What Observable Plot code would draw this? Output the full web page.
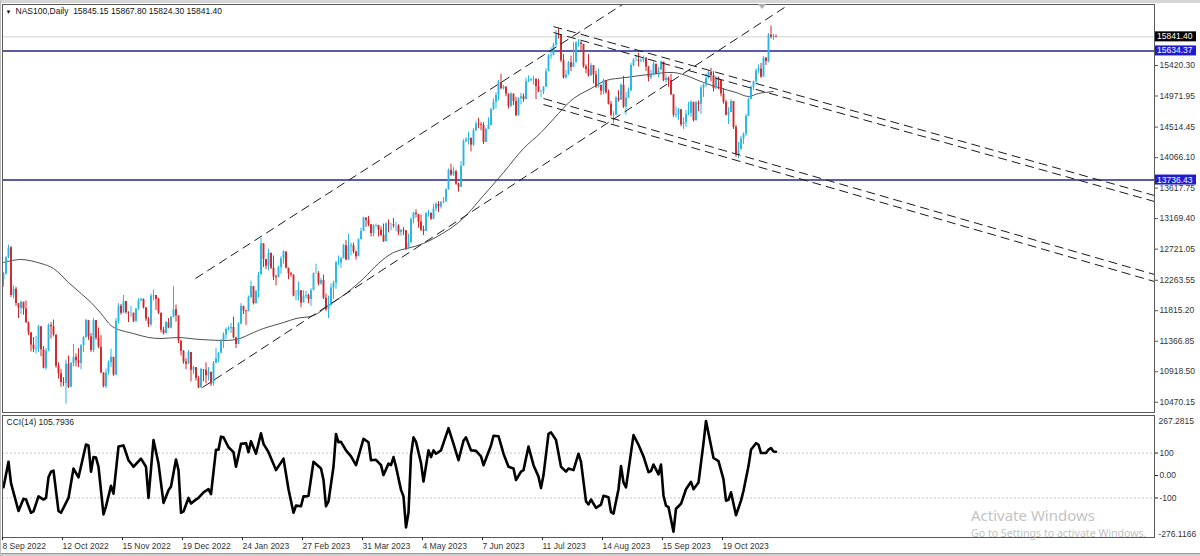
<!DOCTYPE html>
<html><head><meta charset="utf-8">
<script src="https://cdn.jsdelivr.net/npm/d3@7"></script>
<script src="https://cdn.jsdelivr.net/npm/@observablehq/plot@0.6"></script>
<style>
html,body{margin:0;padding:0;background:#fff;}
#wrap{position:relative;width:1200px;height:556px;overflow:hidden;background:#fff;font-family:"Liberation Sans",Arial,sans-serif;}
#main{position:absolute;left:0;top:0;}
#cci{position:absolute;left:0;top:414px;}
#topbar{position:absolute;left:0;top:0;width:1200px;height:3px;background:#d6d6d6;}
#botbar{position:absolute;left:0;top:553px;width:1200px;height:3px;background:#cfcfcf;border-top:1px solid #9a9a9a;}
#leftbar{position:absolute;left:0;top:0;width:1px;height:556px;background:#bdbdbd;}
.wm1{position:absolute;left:971px;top:505px;font:15px "Noto Sans",sans-serif;color:#c3c3c3;white-space:nowrap;}
.wm2{position:absolute;left:971px;top:526px;font:10.6px "Noto Sans",sans-serif;color:#c3c3c3;white-space:nowrap;}
</style></head><body>
<div id="wrap">
<div id="main"></div><div id="cci"></div>
<div id="topbar"></div><div id="botbar"></div><div id="leftbar"></div>
<div class="wm1">Activate Windows</div>
<div class="wm2">Go to Settings to activate Windows.</div>
</div>
<script>
// ---- daily bars (index 0 = 8 Sep 2022) ----
const opens = [
12270,12350,12590,12740,12040,12130,11920,11850,11940,11840,
11640,11490,11310,11250,11260,11580,11240,10970,11220,11600,
11580,11460,11000,10890,10760,10750,11030,10690,11040,11130,
11080,11040,11300,11420,11670,11430,11230,11670,11410,11280,
10900,10700,10900,11050,11130,10870,11660,11880,11780,11950,
11790,11780,11780,11660,11840,11960,11980,11860,11690,11610,
12030,12040,11980,11780,11530,11480,11640,11560,11720,11830,
11740,11370,11220,11060,11030,11200,10940,10980,10820,10680,
10950,10940,10860,10910,10740,11040,11110,11190,11380,11460,
11540,11550,11570,11420,11320,11620,11880,11810,11800,12010,
12170,11920,12100,12340,12800,12570,12470,12660,12440,12310,
12300,12450,12580,12680,12440,12360,12340,12030,12030,12110,
11930,12030,12040,11980,12110,12360,12360,12210,12260,12000,
11830,11890,12150,12220,12520,12520,12580,12770,12560,12760,
12770,12680,12610,12860,12980,13180,13140,13080,12950,13060,
13070,13000,12920,12830,13090,13080,13080,13060,13060,12960,
13000,12990,12720,12810,13160,13250,13230,13120,13000,12980,
13240,13250,13160,13310,13380,13340,13410,13420,13590,13880,
13810,13860,13680,13630,13940,14300,14330,14350,14250,14460,
14560,14550,14540,14290,14480,14540,14770,14880,14980,15170,
15080,15100,15000,14820,15000,14890,14680,14930,14960,14920,
15180,15200,15210,15220,15110,15030,15030,15100,15330,15560,
15570,15720,15870,15860,15490,15240,15280,15460,15390,15460,
15750,15750,15730,15400,15360,15270,15420,15280,15100,15130,
15040,15200,15020,14850,14690,14690,14940,14910,15130,14810,
14940,15050,15420,15500,15500,15480,15490,15530,15400,15240,
15270,15440,15300,15350,15470,15200,15230,15200,14990,14690,
14700,14770,14550,14580,14700,14720,14880,14610,14870,14850,
15090,15130,15230,15320,15270,15080,15230,15200,15000,14880,
14690,14730,14890,14510,14110,14180,14340,14410,14670,14920,
15100,15180,15340,15370,15250,15530,15480,15870,15840,15845.15];
const highs = [
12380,12610,12780,12760,12180,12160,11900,11960,11930,11960,
11650,11460,11420,11440,11600,11520,11290,11260,11620,11640,
11680,11430,11050,10950,10830,11090,11150,11060,11320,11180,
11260,11320,11440,11690,11560,11480,11700,11600,11560,11450,
10890,10960,11080,11250,11110,11700,11920,11910,12040,11930,
11800,11880,11780,11850,11990,12000,11990,11860,11720,12060,
12120,12010,12000,11780,11570,11660,11700,11730,12170,11900,
11720,11370,11230,11110,11230,11200,11000,10980,10850,10970,
10950,11050,10980,10890,11070,11260,11200,11390,11490,11560,
11580,11630,11720,11410,11640,11920,11880,11820,12030,12250,
12150,12110,12380,12880,12720,12570,12720,12630,12620,12340,
12470,12610,12700,12620,12430,12380,12250,12110,12240,11990,
12110,12100,12060,12140,12370,12500,12390,12290,12340,12060,
12030,12210,12250,12540,12620,12600,12790,12850,12940,12810,
12810,12690,12870,13030,13190,13180,13200,13070,13080,13090,
13070,13050,13090,13110,13150,13100,13170,13110,13080,13010,
13040,12960,12940,13180,13260,13300,13210,13220,13060,13260,
13290,13230,13380,13400,13420,13420,13480,13610,13900,13970,
13920,13880,13690,14010,14330,14360,14440,14330,14490,14600,
14640,14580,14580,14500,14650,14790,14930,15020,15200,15290,
15130,15110,15000,15020,14960,14950,14950,15010,15000,15230,
15270,15230,15260,15160,15220,15060,15110,15370,15580,15680,
15750,15930,15960,15810,15580,15350,15480,15560,15760,15770,
15800,15770,15680,15430,15580,15450,15380,15340,15370,15120,
15220,15190,15060,14890,14740,14960,15050,15150,15260,15020,
15090,15450,15520,15570,15600,15520,15560,15530,15370,15350,
15470,15410,15390,15490,15420,15280,15250,15290,14960,14810,
14790,14700,14650,14760,14880,14900,14850,14890,14900,15120,
15150,15300,15340,15380,15330,15260,15250,15200,15080,14910,
14800,14920,14830,14540,14290,14380,14430,14700,14940,15120,
15190,15370,15430,15450,15550,15530,15890,16000,15880,15867.80];
const lows = [
12160,12340,12580,12010,11990,11880,11700,11760,11750,11630,
11450,11210,11200,11180,11200,11140,10960,10940,11290,11400,
11430,10970,10810,10690,10700,10440,10670,10720,10990,10990,
10980,10950,11200,11410,11380,11200,11200,11380,11260,10890,
10680,10670,10870,10980,10850,10860,11620,11750,11800,11760,
11640,11720,11640,11640,11820,11950,11840,11660,11570,11580,
11960,11820,11760,11490,11460,11480,11550,11550,11710,11650,
11330,11150,11030,10950,11040,10770,10880,10780,10670,10700,
10770,10740,10780,10700,10710,11080,11050,11200,11260,11390,
11520,11480,11400,11260,11330,11610,11760,11600,11870,11990,
11900,11910,12000,12340,12450,12420,12400,12420,12260,12180,
12300,12350,12500,12430,12270,12310,12020,11960,11960,11860,
11930,11990,11920,11880,12110,12350,12180,12190,11980,11800,
11700,11890,11980,12130,12480,12440,12580,12550,12560,12620,
12650,12560,12610,12860,12980,13040,13050,12900,12900,13040,
12900,12910,12820,12830,12960,12990,13030,12980,12920,12910,
12920,12700,12720,12810,13090,13180,13030,12980,12920,12980,
13190,13140,13160,13270,13260,13310,13390,13400,13590,13790,
13790,13660,13560,13630,13940,14290,14250,14150,14230,14450,
14490,14460,14260,14290,14480,14540,14760,14780,14900,15060,
15060,14960,14780,14800,14830,14670,14680,14840,14880,14920,
15170,15180,15130,14920,15020,14950,14990,15100,15330,15510,
15560,15700,15810,15460,15220,15220,15280,15330,15390,15460,
15690,15640,15380,15300,15250,15260,15150,15080,15090,14980,
14990,15000,14840,14670,14560,14690,14880,14910,14790,14690,
14940,15040,15400,15480,15400,15460,15460,15330,15180,15210,
15270,15280,15240,15350,15180,15160,15100,14980,14660,14650,
14610,14520,14480,14510,14680,14660,14590,14600,14740,14700,
14950,15100,15220,15180,15030,15070,15060,14960,14850,14680,
14550,14730,14480,14070,14050,14190,14260,14380,14690,14960,
15050,15160,15300,15230,15250,15420,15460,15810,15790,15824.30];
const closes = [
12350,12590,12740,12040,12130,11920,11850,11940,11840,11640,
11490,11310,11250,11260,11580,11240,10970,11220,11600,11580,
11460,11000,10890,10760,10750,11030,10690,11040,11130,11080,
11040,11300,11420,11670,11430,11230,11670,11410,11280,10900,
10700,10900,11050,11130,10870,11660,11880,11780,11950,11790,
11780,11780,11660,11840,11960,11980,11860,11690,11610,12030,
12040,11980,11780,11530,11480,11640,11560,11720,11830,11740,
11370,11220,11060,11030,11200,10940,10980,10820,10680,10950,
10940,10860,10910,10740,11040,11110,11190,11380,11460,11540,
11550,11570,11420,11320,11620,11880,11810,11800,12010,12170,
11920,12100,12340,12800,12570,12470,12660,12440,12310,12300,
12450,12580,12680,12440,12360,12340,12030,12030,12110,11930,
12030,12040,11980,12110,12360,12360,12210,12260,12000,11830,
11890,12150,12220,12520,12520,12580,12770,12560,12760,12770,
12680,12610,12860,12980,13180,13140,13080,12950,13060,13070,
13000,12920,12830,13090,13080,13080,13060,13060,12960,13000,
12990,12720,12810,13160,13250,13230,13120,13000,12980,13240,
13250,13160,13310,13380,13340,13410,13420,13590,13880,13810,
13860,13680,13630,13940,14300,14330,14350,14250,14460,14560,
14550,14540,14290,14480,14540,14770,14880,14980,15170,15080,
15100,15000,14820,15000,14890,14680,14930,14960,14920,15180,
15200,15210,15220,15110,15030,15030,15100,15330,15560,15570,
15720,15870,15860,15490,15240,15280,15460,15390,15460,15750,
15750,15730,15400,15360,15270,15420,15280,15100,15130,15040,
15200,15020,14850,14690,14690,14940,14910,15130,14810,14940,
15050,15420,15500,15500,15480,15490,15530,15400,15240,15270,
15440,15300,15350,15470,15200,15230,15200,14990,14690,14700,
14770,14550,14580,14700,14720,14880,14610,14870,14850,15090,
15130,15230,15320,15270,15080,15230,15200,15000,14880,14690,
14730,14890,14510,14110,14180,14340,14410,14670,14920,15100,
15180,15340,15370,15250,15530,15480,15870,15840,15845,15841.40];

// ---- time axis ----
const dateTickIdx = [0,24,48,72,96,120,144,168,192,216,240,264,288];
const dateLabels = ["8 Sep 2022","12 Oct 2022","15 Nov 2022","19 Dec 2022","24 Jan 2023","27 Feb 2023","31 Mar 2023","4 May 2023","7 Jun 2023","11 Jul 2023","14 Aug 2023","15 Sep 2023","19 Oct 2023"];

// ---- price axis ----
const priceTicks = [15420.30,14971.95,14514.45,14066.10,13617.75,13169.40,12721.05,12263.55,11815.20,11366.85,10918.50,10470.15];
const levelLines = [15634.37, 13736.43];

// ---- moving average ----
const maIdx = [0,7,15,20,26,31,35,39,43,46,52,58,63,70,79,93,100,104,112,117,124,130,137,144,150,156,168,182,192,200,208,215,222,228,235,241,249,258,268,273,280,286,293,298,302,308];
const maVal = [12524,12569,12510,12436,12230,12069,11936,11775,11598,11539,11480,11422,11407,11422,11392,11392,11495,11554,11642,11701,11745,11892,12069,12289,12510,12671,12804,13112,13509,13847,14200,14435,14715,14935,15082,15200,15244,15288,15317,15273,15170,15097,15023,14965,15009,15038];

// ---- trend lines (bar index, price) ----
const trendI1 = [76.8, 79.6, 220, 220, 216, 216];
const trendP1 = [12289, 10687, 15993, 15905, 14935, 14847];
const trendI2 = [247.6, 312.4, 460.4, 460.4, 460.4, 460.4];
const trendP2 = [16317, 16273, 13509, 13421, 12348, 12245];

// ---- CCI(14) ----
const cciIdx = [0,2,3,6,8,9,11,12,14,16,17,18,19,20,22,23,26,28,30,33,34,35,36,37,38,40,41,43,44,46,48,50,52,55,57,58,60,62,64,66,67,69,70,71,72,74,75,77,78,80,82,83,85,86,87,88,90,92,93,95,97,98,99,101,103,104,106,109,112,114,116,117,119,120,121,122,124,127,128,129,130,132,133,134,135,137,139,141,144,146,147,149,151,152,154,155,156,157,159,160,161,162,163,164,165,167,168,170,171,172,173,175,178,180,182,184,185,187,189,191,192,195,196,198,200,202,204,205,207,208,210,212,214,215,216,218,219,221,223,225,226,228,230,231,233,234,235,237,239,240,242,243,244,246,247,248,249,252,254,256,258,259,260,262,263,264,265,266,268,269,271,273,275,276,278,280,281,282,284,286,288,289,290,291,293,295,296,298,299,301,302,303,305,306,307,308,309];
const cciVal = [-52,61,-34,-158,-104,-107,-166,-160,-93,-107,-100,-8,17,22,-158,-166,-100,31,-8,138,134,17,82,80,39,-173,-137,-46,-81,129,134,68,39,75,39,-100,158,53,-122,-66,-49,71,24,-166,-160,-100,-125,-107,-100,-75,-61,-83,115,115,173,170,126,104,39,141,144,104,153,97,188,141,104,24,75,-61,-166,-134,-137,-93,-93,-90,61,31,-20,-137,-115,39,185,148,150,112,85,46,163,148,68,70,46,2,53,46,82,39,-64,-93,-231,-166,90,170,150,56,-27,112,82,112,97,112,211,141,68,155,170,112,110,85,46,134,177,175,97,39,31,-20,17,24,129,46,-5,-56,2,185,192,158,39,17,31,24,97,61,-115,-129,-107,-144,-130,-90,-97,-163,-170,-61,42,-31,-53,180,137,85,15,20,49,5,49,-90,-134,-141,-250,-148,-126,-61,-28,-61,-31,144,243,188,78,64,-17,-112,-108,-75,-177,-112,-68,42,115,144,137,100,100,115,122,107,105.7936];
const cciTicks = [100, 0, -100];
const cciTickLabels = ["100", "0.00", "-100"];
const cciTop = 267.2815, cciBottom = -276.1166;

// ---------------------------------------------------------------
const bars = closes.map((c, i) => ({i, o: opens[i], h: highs[i], l: lows[i], c}));
const ma = maIdx.map((i, k) => ({i, v: maVal[k]}));
const trends = trendI1.map((x1, k) => ({x1, y1: trendP1[k], x2: trendI2[k], y2: trendP2[k]}));
const cciPts = cciIdx.map((i, k) => ({i, v: cciVal[k]}));
const last = bars[bars.length - 1];

const W = 1200;
const xDomain = [-0.4, 460.4];
const UP = "#27b7e5", DN = "#d3262a";
const FONT = "'Liberation Sans', Arial, sans-serif";
const col = d => d.c >= d.o ? UP : DN;

const title = `NAS100,Daily  ${last.o.toFixed(2)} ${last.h.toFixed(2)} ${last.l.toFixed(2)} ${last.c.toFixed(2)}`;

const main = Plot.plot({
  width: W, height: 414,
  marginLeft: 2, marginRight: 46, marginTop: 4, marginBottom: 2,
  x: {type: "linear", domain: xDomain, axis: null, label: null},
  y: {domain: [10319.4, 16317], axis: null, label: null},
  color: {type: "identity"},
  style: {fontFamily: FONT, fontSize: "8.5px", color: "#222", background: "transparent", overflow: "visible"},
  marks: [
    Plot.ruleY([last.c], {stroke: "#d2d2d2", strokeWidth: 1}),
    Plot.ruleY(levelLines, {stroke: "#25258f", strokeWidth: 1.6}),
    Plot.line(ma, {x: "i", y: "v", stroke: "#3a3a3a", strokeWidth: 0.9, curve: "catmull-rom"}),
    Plot.ruleX(bars, {x: "i", y1: d => Math.min(d.l, d.o, d.c), y2: d => Math.max(d.h, d.o, d.c), stroke: col, strokeWidth: 1}),
    Plot.ruleX(bars, {x: "i", y1: "o", y2: "c", stroke: col, strokeWidth: 1.9}),
    Plot.link(trends, {x1: "x1", y1: "y1", x2: "x2", y2: "y2", stroke: "#1a1a1a", strokeWidth: 1, strokeDasharray: "9,5"}),
    Plot.frame({stroke: "#5a5a5a"}),
    Plot.axisY({anchor: "right", label: null, ticks: priceTicks, tickFormat: d => d.toFixed(2), tickSize: 3, tickPadding: 2, fontSize: 8.5, stroke: "#555", fill: "#333"}),
    Plot.text(["▼"], {frameAnchor: "top-left", dx: 3, dy: 5, fontSize: 6, fill: "#111", textAnchor: "start", lineAnchor: "top"}),
    Plot.text([title], {frameAnchor: "top-left", dx: 13, dy: 3.5, fontSize: 8.5, fill: "#111", textAnchor: "start", lineAnchor: "top"})
  ]
});

const cciChart = Plot.plot({
  width: W, height: 142,
  marginLeft: 2, marginRight: 46, marginTop: 1, marginBottom: 19,
  x: {type: "linear", domain: xDomain, axis: null, label: null},
  y: {domain: [cciBottom, cciTop], axis: null, label: null},
  style: {fontFamily: FONT, fontSize: "8.5px", color: "#222", background: "transparent", overflow: "visible"},
  marks: [
    Plot.ruleY([100, -100], {stroke: "#c4c4c4", strokeDasharray: "2,2"}),
    Plot.line(cciPts, {x: "i", y: "v", stroke: "#000", strokeWidth: 2.6, strokeLinejoin: "round", strokeLinecap: "round"}),
    Plot.frame({stroke: "#5a5a5a"}),
    Plot.axisY({anchor: "right", label: null, ticks: cciTicks, tickFormat: d => cciTickLabels[cciTicks.indexOf(d)], tickSize: 3, tickPadding: 2, fontSize: 8.5, fill: "#333"}),
    Plot.text([cciTop.toFixed(4)], {frameAnchor: "top-right", dx: 4, dy: 6, fontSize: 8.5, fill: "#333", textAnchor: "start", lineAnchor: "middle"}),
    Plot.text([cciBottom.toFixed(4)], {frameAnchor: "bottom-right", dx: 4, dy: -3, fontSize: 8.5, fill: "#333", textAnchor: "start", lineAnchor: "middle"}),
    Plot.axisX({anchor: "bottom", label: null, ticks: dateTickIdx, tickFormat: d => dateLabels[dateTickIdx.indexOf(d)], tickSize: 3, tickPadding: 2, textAnchor: "start", dx: -1, fontSize: 8.5, fill: "#333"}),
    Plot.text([`CCI(14) ${cciVal[cciVal.length - 1].toFixed(4)}`], {frameAnchor: "top-left", dx: 4, dy: 3, fontSize: 8.5, fill: "#222", textAnchor: "start", lineAnchor: "top"})
  ]
});

document.getElementById("main").appendChild(main);
document.getElementById("cci").appendChild(cciChart);

// price boxes on the right axis, placed with the chart's own y scale
const yScale = main.scale("y");
function priceBox(v, bg) {
  const y = yScale.apply(v);
  const g = d3.select(main).append("g");
  g.append("rect").attr("x", 1155).attr("y", y - 5).attr("width", 41).attr("height", 10).attr("fill", bg);
  g.append("text").attr("x", 1157).attr("y", y).attr("dy", "0.35em").attr("text-anchor", "start")
    .attr("fill", "#fff").attr("font-size", 8.5).attr("font-family", FONT).text(v.toFixed(2));
}
priceBox(last.c, "#000");
levelLines.forEach(v => priceBox(v, "#1c1cd2"));

// small chart-shift marker at the top
d3.select(main).append("path").attr("d", "M758,4 L766,4 L762,9 Z").attr("fill", "#b0b0b0");
</script>
</body></html>
